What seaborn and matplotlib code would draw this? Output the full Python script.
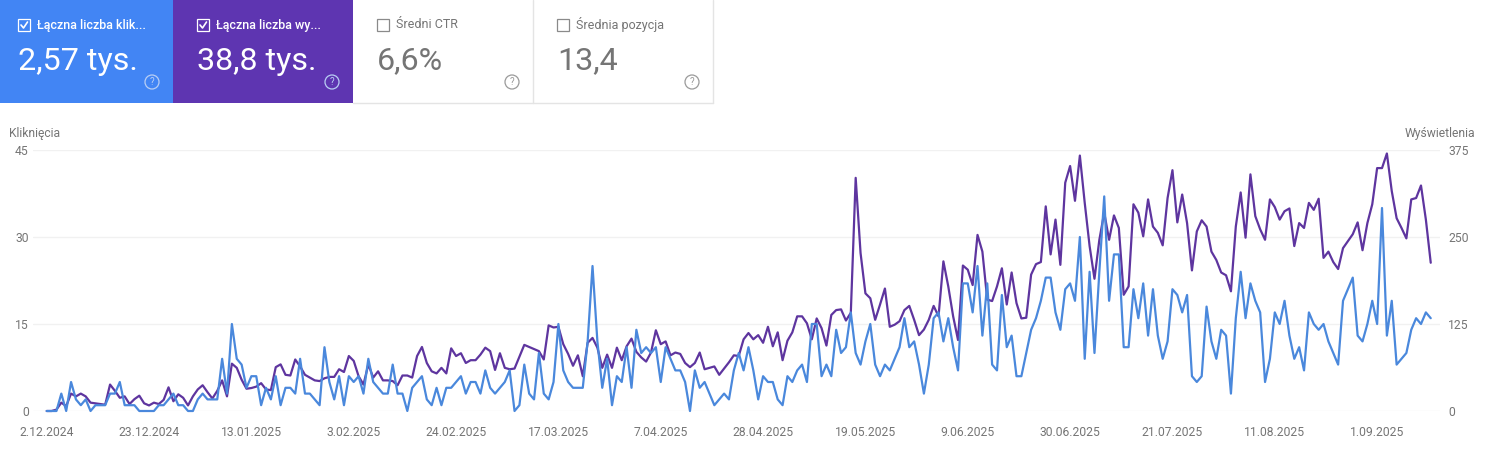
"""
Search Console performance chart: clicks and impressions per day.
"""

import matplotlib.pyplot as plt
import pandas as pd
import seaborn as sns
from matplotlib.patches import Circle, Rectangle

START_DATE = "2024-12-02"

CLICKS = [
    0, 0, 0, 3, 0, 5, 2, 1, 2, 0,
    1, 1, 1, 3, 3, 5, 1, 1, 1, 0,
    0, 0, 0, 1, 1, 2, 3, 1, 1, 0,
    0, 2, 3, 2, 2, 2, 9, 3, 15, 9,
    8, 4, 6, 6, 1, 4, 2, 6, 1, 4,
    4, 3, 9, 3, 3, 2, 1, 11, 5, 2,
    6, 1, 6, 5, 6, 3, 9, 5, 4, 3,
    3, 8, 3, 3, 0, 4, 5, 6, 2, 1,
    4, 1, 4, 4, 5, 6, 3, 5, 5, 3,
    7, 4, 3, 4, 5, 7, 0, 1, 8, 3,
    2, 10, 3, 2, 5, 15, 7, 5, 4, 4,
    4, 12, 25, 12, 4, 9, 1, 6, 5, 11,
    4, 14, 10, 11, 10, 11, 5, 11, 9, 7,
    7, 5, 0, 7, 4, 5, 3, 1, 2, 3,
    2, 7, 10, 7, 11, 7, 2, 6, 5, 5,
    2, 1, 6, 5, 7, 8, 5, 15, 15, 6,
    8, 6, 14, 10, 11, 17, 10, 8, 12, 15,
    8, 6, 8, 7, 9, 11, 16, 11, 12, 8,
    3, 8, 16, 17, 12, 16, 11, 7, 22, 22,
    17, 25, 13, 22, 8, 7, 20, 11, 13, 6,
    6, 10, 14, 16, 19, 23, 23, 17, 14, 21,
    22, 19, 30, 9, 24, 10, 24, 37, 19, 27,
    27, 11, 11, 21, 16, 22, 13, 21, 13, 9,
    12, 21, 20, 17, 20, 6, 5, 6, 18, 12,
    9, 14, 13, 3, 16, 24, 16, 22, 19, 17,
    5, 9, 17, 15, 19, 13, 9, 11, 7, 17,
    15, 14, 15, 12, 10, 8, 19, 21, 23, 13,
    12, 15, 19, 15, 35, 13, 19, 8, 9, 10,
    14, 16, 15, 17, 16,
]

IMPRESSIONS = [
    0, 0, 2, 12, 7, 25, 21, 25, 21, 12,
    11, 10, 9, 38, 29, 19, 21, 10, 17, 22,
    11, 8, 12, 10, 16, 34, 14, 24, 19, 8,
    21, 31, 37, 27, 18, 29, 44, 21, 68, 62,
    45, 32, 33, 35, 40, 31, 30, 63, 67, 52,
    51, 74, 64, 52, 48, 44, 43, 47, 49, 49,
    60, 56, 79, 72, 50, 38, 67, 48, 57, 44,
    44, 43, 37, 51, 51, 48, 79, 92, 69, 57,
    54, 62, 54, 90, 79, 83, 69, 73, 73, 81,
    91, 86, 59, 83, 62, 60, 61, 78, 95, 92,
    89, 86, 74, 123, 120, 121, 96, 82, 65, 80,
    50, 98, 105, 91, 62, 81, 62, 91, 73, 93,
    104, 85, 77, 71, 84, 116, 96, 100, 80, 84,
    82, 69, 63, 69, 84, 60, 62, 64, 52, 61,
    70, 80, 79, 103, 112, 103, 109, 98, 121, 93,
    113, 73, 101, 113, 136, 136, 126, 103, 133, 119,
    94, 138, 145, 146, 130, 141, 335, 227, 169, 162,
    131, 153, 176, 121, 124, 129, 145, 151, 131, 109,
    117, 131, 151, 136, 215, 179, 136, 102, 209, 203,
    181, 253, 229, 160, 158, 179, 205, 153, 199, 155,
    133, 134, 196, 211, 214, 294, 225, 275, 210, 328,
    352, 302, 367, 299, 237, 190, 246, 285, 246, 281,
    263, 167, 179, 297, 285, 251, 304, 265, 256, 238,
    306, 346, 271, 311, 270, 202, 258, 274, 265, 229,
    217, 199, 195, 172, 265, 314, 249, 340, 280, 261,
    246, 304, 293, 275, 287, 291, 237, 270, 263, 299,
    289, 305, 220, 229, 214, 204, 234, 244, 254, 271,
    231, 270, 297, 349, 349, 370, 316, 277, 263, 248,
    304, 306, 324, 275, 213,
]

DATE_TICKS = [
    "2024-12-02", "2024-12-23", "2025-01-13", "2025-02-03", "2025-02-24",
    "2025-03-17", "2025-04-07", "2025-04-28", "2025-05-19", "2025-06-09",
    "2025-06-30", "2025-07-21", "2025-08-11", "2025-09-01",
]
DATE_LABELS = [
    "2.12.2024", "23.12.2024", "13.01.2025", "3.02.2025", "24.02.2025",
    "17.03.2025", "7.04.2025", "28.04.2025", "19.05.2025", "9.06.2025",
    "30.06.2025", "21.07.2025", "11.08.2025", "1.09.2025",
]
CLICK_TICKS = [0, 15, 30, 45]
IMPRESSION_TICKS = [0, 125, 250, 375]

TILE_TITLES = ["Łączna liczba klik...", "Łączna liczba wy...", "Średni CTR", "Średnia pozycja"]
TILE_VALUES = ["2,57 tys.", "38,8 tys.", "6,6%", "13,4"]

BLUE = "#4285f4"
PURPLE = "#5e35b1"
LINE_BLUE = "#4a88dc"
LINE_PURPLE = "#5e359f"
GREY = "#757575"
GRID = "#f1f1f1"

W, H = 1487, 463


def draw_tile(bg, x, width, pad, title, value, active, fill=None):
    text_col = "white" if active else GREY
    icon_col = "#b9cff5" if active else "#9a9a9a"
    if active:
        bg.add_patch(Rectangle((x, 0), width, 103, color=fill, lw=0))
    bg.add_patch(Rectangle((x + pad, 19), 12, 12, fill=False, ec="white" if active else "#8a8a8a", lw=0.9))
    if active:
        bg.plot([x + pad + 3, x + pad + 5.5, x + pad + 9.5], [25, 28, 22], color="white", lw=1.2)
    bg.text(x + pad + 19, 25, title, color=text_col, fontsize=9.0,
            va="center", ha="left", fontweight="medium" if active else "normal")
    bg.text(x + pad, 61, value, color=text_col, fontsize=23.2, va="center", ha="left")
    bg.add_patch(Circle((x + width - 21, 82), 7, fill=False, ec=icon_col, lw=0.9))
    bg.text(x + width - 21, 82, "?", color=icon_col, fontsize=7, va="center", ha="center")


dates = pd.date_range(START_DATE, periods=len(CLICKS), freq="D")
df = pd.DataFrame({"date": dates, "clicks": CLICKS, "impressions": IMPRESSIONS})

sns.set_theme(style="white")
plt.rcParams["font.family"] = ["Roboto", "DejaVu Sans"]

fig = plt.figure(figsize=(W / 100, H / 100), dpi=100, facecolor="white")

# background layer in pixel coordinates, for the tiles
bg = fig.add_axes([0, 0, 1, 1])
bg.set_xlim(0, W)
bg.set_ylim(H, 0)
bg.axis("off")

ax = fig.add_axes([33 / W, 1 - 411 / H, (1440 - 33) / W, 261 / H])
ax2 = ax.twinx()

sns.lineplot(data=df, x="date", y="impressions", ax=ax2, color=LINE_PURPLE, linewidth=1.6, clip_on=False)
sns.lineplot(data=df, x="date", y="clicks", ax=ax, color=LINE_BLUE, linewidth=1.6, clip_on=False)

# clicks line sits above the impressions line
ax.set_zorder(ax2.get_zorder() + 1)
ax.patch.set_visible(False)

tick_dates = pd.to_datetime(DATE_TICKS)
ax.set_xlim(dates[0] - pd.Timedelta(days=2.81), dates[0] + pd.Timedelta(days=285.9))
ax.set_xticks(tick_dates)
ax.set_xticklabels(DATE_LABELS)
ax.set_ylim(0, 45)
ax.set_yticks(CLICK_TICKS)
ax2.set_ylim(0, 375)
ax2.set_yticks(IMPRESSION_TICKS)
ax2.grid(True, axis="y", color=GRID, lw=1)
ax2.set_axisbelow(True)
ax.grid(False)

ax.set_xlabel("")
ax.set_ylabel("")
ax2.set_xlabel("")
ax2.set_ylabel("")
ax.tick_params(axis="x", length=0, pad=10.5, labelsize=8.7, labelcolor=GREY)
ax.tick_params(axis="y", length=0, pad=3, labelsize=8.7, labelcolor=GREY)
ax2.tick_params(axis="y", length=0, pad=6, labelsize=8.7, labelcolor=GREY)
for a in (ax, ax2):
    sns.despine(ax=a, left=True, right=True, top=True, bottom=True)

bg.text(9, 133, "Kliknięcia", color=GREY, fontsize=8.7, va="center", ha="left")
bg.text(1475, 133, "Wyświetlenia", color=GREY, fontsize=8.7, va="center", ha="right")

# inactive tile borders
bg.plot([353, 713], [102.5, 102.5], color="#e4e4e4", lw=1)
bg.plot([532.5, 532.5], [0, 103], color="#e4e4e4", lw=1)
bg.plot([712.5, 712.5], [0, 103], color="#e4e4e4", lw=1)

draw_tile(bg, 0, 173, 18, TILE_TITLES[0], TILE_VALUES[0], True, BLUE)
draw_tile(bg, 173, 180, 24, TILE_TITLES[1], TILE_VALUES[1], True, PURPLE)
draw_tile(bg, 353, 180, 24, TILE_TITLES[2], TILE_VALUES[2], False)
draw_tile(bg, 533, 180, 24, TILE_TITLES[3], TILE_VALUES[3], False)

fig.savefig("out.png", dpi=100, facecolor="white")
